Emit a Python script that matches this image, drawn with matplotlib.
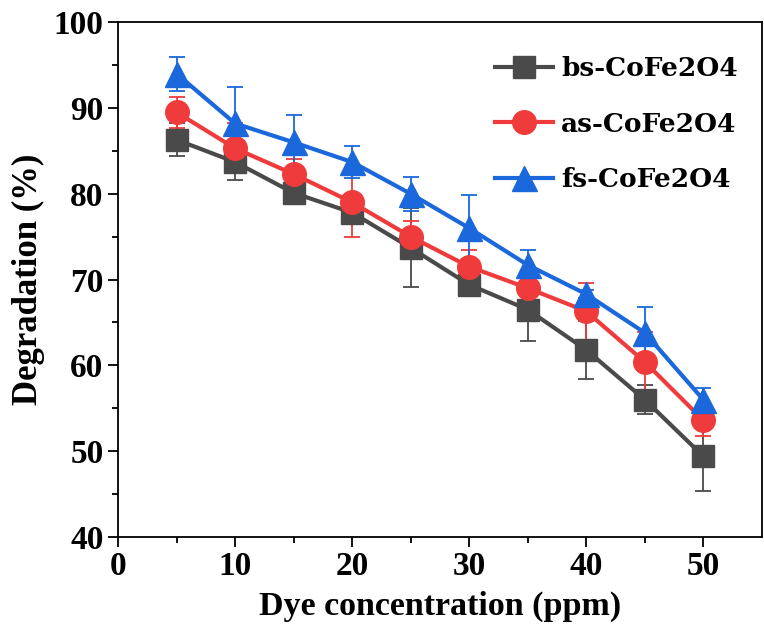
import numpy as np
import matplotlib
matplotlib.use('Agg')
import matplotlib.pyplot as plt

# dye concentration (ppm)
conc = [5, 10, 15, 20, 25, 30, 35, 40, 45, 50]

# degradation (%)
bs_deg = [86.3, 83.7, 80.1, 77.8, 73.7, 69.4, 66.5, 61.8, 56.0, 49.4]
as_deg = [89.5, 85.3, 82.3, 79.0, 75.0, 71.5, 69.0, 66.3, 60.4, 53.6]
fs_deg = [94.0, 88.2, 86.0, 83.7, 80.0, 76.0, 71.7, 68.3, 63.8, 56.0]

# error bars
bs_err = [1.9, 2.1, 1.2, 0.8, 4.6, 0.8, 3.7, 3.4, 1.7, 4.1]
as_err = [1.8, 2.9, 1.8, 4.0, 1.8, 2.0, 1.7, 3.3, 3.5, 1.8]
fs_err = [2.0, 4.3, 3.2, 1.9, 2.0, 3.9, 1.8, 0.5, 3.0, 1.4]

labels = ['bs-CoFe2O4', 'as-CoFe2O4', 'fs-CoFe2O4']

plt.rcParams['font.family'] = ['Liberation Serif', 'DejaVu Serif']
plt.rcParams['font.weight'] = 'bold'

fig = plt.figure(figsize=(7.64, 6.36), dpi=100)
ax = fig.add_axes([0.1545, 0.156, 0.8425, 0.809])

series = [
    (bs_deg, bs_err, '#4a4a4a', 's', 16, labels[0]),
    (as_deg, as_err, '#ef3b3b', 'o', 17, labels[1]),
    (fs_deg, fs_err, '#1a68dc', '^', 18, labels[2]),
]
for y, e, c, m, ms, lab in series:
    ax.errorbar(conc, y, yerr=e, color=c, marker=m, markersize=ms, lw=3,
                ecolor=c, elinewidth=1.3, capsize=6, capthick=1.3,
                label=lab, zorder=3)

ax.set_xlim(0, 55)
ax.set_ylim(40, 100)
ax.set_xticks(np.arange(0, 51, 10))
ax.set_xticks(np.arange(5, 55, 10), minor=True)
ax.set_yticks(np.arange(40, 101, 10))
ax.set_yticks(np.arange(45, 100, 10), minor=True)
ax.tick_params(axis='both', which='major', direction='out', length=7, width=1.3,
               labelsize=24)
ax.tick_params(axis='both', which='minor', direction='out', length=4, width=1.3)
for lab in ax.get_xticklabels() + ax.get_yticklabels():
    lab.set_fontweight('bold')
for sp in ax.spines.values():
    sp.set_linewidth(1.3)

ax.set_xlabel('Dye concentration (ppm)', fontsize=24.5, fontweight='bold', labelpad=6)
ax.set_ylabel('Degradation (%)', fontsize=25, fontweight='bold', labelpad=6)

handles, labs = ax.get_legend_handles_labels()
leg = ax.legend([h[0] for h in handles], labs, loc='upper right', frameon=False,
                prop={'family': 'DejaVu Serif', 'weight': 'bold', 'size': 19},
                handlelength=2.2, handletextpad=0.3, labelspacing=1.15,
                bbox_to_anchor=(1.0, 0.98))

fig.savefig('out.png', dpi=100)
